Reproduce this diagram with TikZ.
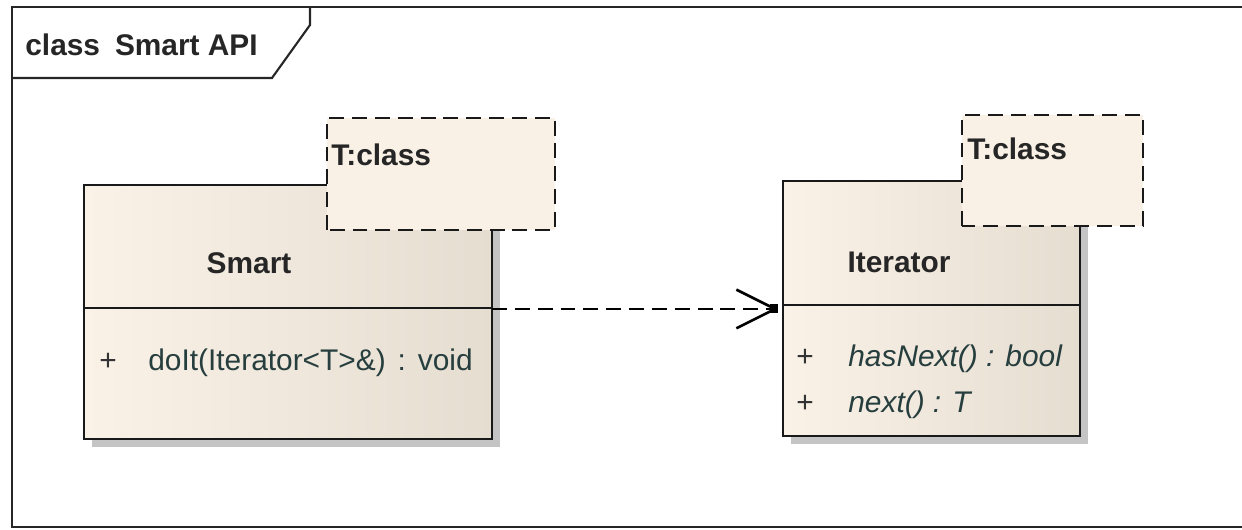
\documentclass[tikz,border=0pt]{standalone}
\usepackage{fontspec}
\setmainfont{Liberation Sans}
\usetikzlibrary{arrows.meta}

\definecolor{boxlight}{RGB}{250,242,231}
\definecolor{boxdark}{RGB}{230,221,209}
\definecolor{tplfill}{RGB}{249,241,230}
\definecolor{optext}{RGB}{38,62,62}
\definecolor{shadowgray}{RGB}{196,196,196}

\tikzset{
    txt/.style={inner sep=0pt, text height=12.2pt, text depth=0pt, font=\fontsize{17}{20}\selectfont},
    classname/.style={txt, font=\fontsize{17}{20}\selectfont\bfseries, text=black!85},
    op/.style={txt, anchor=west, text=optext},
    vis/.style={txt, text=black!80},
    classbox/.style={draw=black!90, line width=1.5pt, left color=boxlight, middle color=boxlight, right color=boxdark},
    tplbox/.style={draw=black!90, line width=1.5pt, fill=tplfill, dash pattern=on 8.5pt off 4.5pt},
    shadow/.style={fill=shadowgray},
    divider/.style={draw=black!90, line width=1.5pt}
}

\begin{document}
\begin{tikzpicture}[x=0.02cm, y=0.02cm]
    \useasboundingbox (0,0) rectangle (1242,530);

    % frame
    \draw[line width=1.6pt, black!85] (1242,523) -- (12,523) -- (12,3) -- (1242,3);
    \draw[line width=1.2pt, black!85] (310,523) -- (310,505) -- (272,452) -- (12,452);
    \node[classname, anchor=west] (title) at (25,485) {class\hspace{0.5em}Smart API};

    % Smart
    \fill[shadow] (92,83) rectangle (500,337);
    \draw[classbox] (84,91) rectangle (492,345);
    \draw[divider] (84,222) -- (492,222);
    \draw[tplbox] (327,300) rectangle (555,412);
    \node[classname] (smart) at (249,267) {Smart};
    \node[classname, anchor=west] (smarttpl) at (331,375) {T:class};
    \node[vis] (smartvis) at (108,170) {+};
    \node[op] (doit) at (148,170) {doIt(Iterator<T>\&)\hspace{0.4em}:\hspace{0.4em}void};

    % Iterator
    \fill[shadow] (791,86) rectangle (1088,341);
    \draw[classbox] (783,94) rectangle (1080,349);
    \draw[divider] (783,225) -- (1080,225);
    \draw[tplbox] (962,304) rectangle (1143,415);
    \node[classname] (iter) at (899,268) {Iterator};
    \node[classname, anchor=west] (itertpl) at (967,381) {T:class};
    \node[vis] (itervis1) at (805,174) {+};
    \node[op] (hasnext) at (848,174) {\itshape hasNext() : bool};
    \node[vis] (itervis2) at (805,128) {+};
    \node[op] (next) at (848,128) {\itshape next() : T};

    % dependency
    \coordinate (depstart) at (492,221);
    \coordinate (depend) at (778,221);
    \draw[line width=1.5pt, dash pattern=on 8.5pt off 4.5pt, -{Straight Barb[length=22pt, width=22pt]}] (depstart) -- (depend);
    \fill (depend) ++(-8,-4.5) rectangle ++(8,9);

\end{tikzpicture}
\end{document}
